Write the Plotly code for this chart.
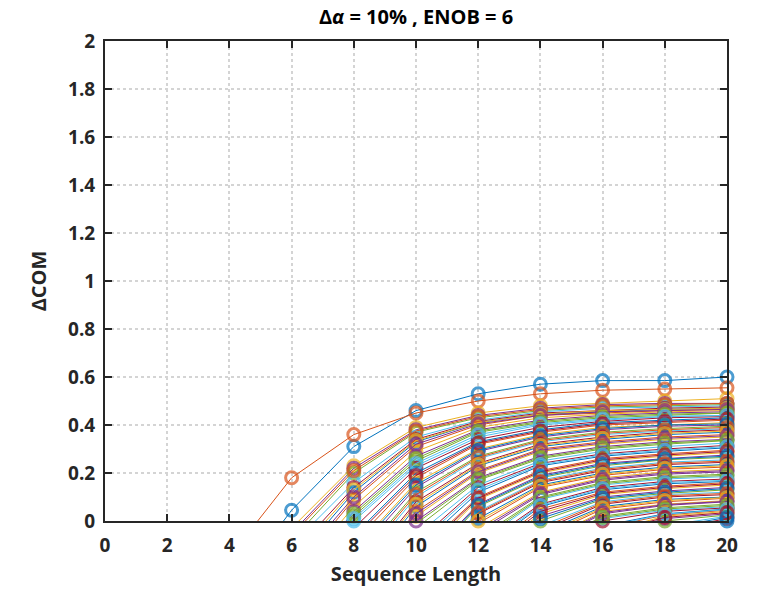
import plotly.graph_objects as go

seq_len = [4, 6, 8, 10, 12, 14, 16, 18, 20]

series = [
    [-0.30, 0.045, 0.31, 0.46, 0.53, 0.57, 0.585, 0.585, 0.60],
    [-0.15, 0.18, 0.36, 0.45, 0.50, 0.53, 0.545, 0.55, 0.555],
    [-0.35, -0.03, 0.23, 0.39, 0.45, 0.48, 0.49, 0.50, 0.51],
    [-0.38, -0.05, 0.22, 0.38, 0.44, 0.47, 0.485, 0.49, 0.49],
    [-0.42, -0.08, 0.20, 0.37, 0.43, 0.46, 0.475, 0.48, 0.485],
    [-0.45, -0.10, 0.16, 0.35, 0.42, 0.455, 0.47, 0.475, 0.48],
    [-0.48, -0.14, 0.14, 0.34, 0.415, 0.45, 0.46, 0.47, 0.475],
    [-0.52, -0.18, 0.12, 0.33, 0.41, 0.445, 0.455, 0.465, 0.47],
    [-0.60, -0.22, 0.09, 0.31, 0.40, 0.44, 0.45, 0.46, 0.465],
    [-0.62, -0.25, 0.06, 0.29, 0.39, 0.43, 0.445, 0.455, 0.46],
    [-0.65, -0.28, 0.04, 0.27, 0.38, 0.42, 0.44, 0.45, 0.455],
    [-0.68, -0.30, 0.02, 0.25, 0.37, 0.41, 0.43, 0.44, 0.45],
    [-0.70, -0.33, 0.00, 0.23, 0.35, 0.40, 0.42, 0.435, 0.44],
    [-0.75, -0.38, -0.03, 0.22, 0.34, 0.39, 0.415, 0.43, 0.435],
    [-0.78, -0.40, -0.06, 0.20, 0.33, 0.38, 0.41, 0.42, 0.43],
    [-0.80, -0.43, -0.09, 0.18, 0.32, 0.37, 0.40, 0.41, 0.42],
    [-0.85, -0.46, -0.12, 0.16, 0.30, 0.36, 0.39, 0.40, 0.41],
    [-0.88, -0.50, -0.15, 0.14, 0.29, 0.35, 0.38, 0.395, 0.40],
    [-0.95, -0.55, -0.18, 0.12, 0.27, 0.34, 0.37, 0.385, 0.395],
    [-1.00, -0.58, -0.21, 0.10, 0.26, 0.33, 0.36, 0.375, 0.385],
    [-1.00, -0.62, -0.24, 0.08, 0.24, 0.32, 0.35, 0.37, 0.38],
    [-1.00, -0.65, -0.27, 0.06, 0.23, 0.31, 0.34, 0.36, 0.37],
    [-1.00, -0.68, -0.30, 0.04, 0.21, 0.30, 0.33, 0.35, 0.36],
    [-1.00, -0.72, -0.33, 0.02, 0.20, 0.29, 0.32, 0.34, 0.35],
    [-1.00, -0.75, -0.36, 0.00, 0.18, 0.27, 0.31, 0.33, 0.34],
    [-1.00, -0.78, -0.39, -0.03, 0.17, 0.26, 0.30, 0.32, 0.335],
    [-1.00, -0.80, -0.42, -0.06, 0.15, 0.25, 0.29, 0.31, 0.325],
    [-1.00, -0.83, -0.45, -0.09, 0.14, 0.24, 0.28, 0.30, 0.315],
    [-1.00, -0.86, -0.48, -0.12, 0.12, 0.23, 0.27, 0.29, 0.305],
    [-1.00, -0.90, -0.50, -0.14, 0.10, 0.21, 0.26, 0.28, 0.295],
    [-1.00, -0.90, -0.52, -0.17, 0.09, 0.20, 0.25, 0.27, 0.285],
    [-1.00, -0.90, -0.55, -0.20, 0.07, 0.19, 0.24, 0.26, 0.275],
    [-1.00, -0.90, -0.58, -0.22, 0.06, 0.18, 0.23, 0.255, 0.265],
    [-1.00, -0.90, -0.60, -0.25, 0.04, 0.17, 0.22, 0.245, 0.255],
    [-1.00, -0.90, -0.62, -0.27, 0.03, 0.16, 0.21, 0.235, 0.245],
    [-1.00, -0.90, -0.65, -0.30, 0.01, 0.15, 0.20, 0.225, 0.235],
    [-1.00, -0.90, -0.68, -0.32, -0.01, 0.14, 0.19, 0.215, 0.225],
    [-1.00, -0.90, -0.70, -0.35, -0.03, 0.12, 0.18, 0.205, 0.215],
    [-1.00, -0.90, -0.72, -0.37, -0.05, 0.11, 0.17, 0.195, 0.205],
    [-1.00, -0.90, -0.75, -0.40, -0.07, 0.10, 0.16, 0.185, 0.195],
    [-1.00, -0.90, -0.78, -0.42, -0.09, 0.09, 0.15, 0.175, 0.185],
    [-1.00, -0.90, -0.80, -0.45, -0.11, 0.07, 0.14, 0.165, 0.175],
    [-1.00, -0.90, -0.80, -0.47, -0.13, 0.06, 0.13, 0.155, 0.165],
    [-1.00, -0.90, -0.80, -0.50, -0.15, 0.05, 0.12, 0.145, 0.16],
    [-1.00, -0.90, -0.80, -0.52, -0.17, 0.03, 0.11, 0.135, 0.15],
    [-1.00, -0.90, -0.80, -0.55, -0.19, 0.02, 0.10, 0.125, 0.14],
    [-1.00, -0.90, -0.80, -0.57, -0.21, 0.00, 0.09, 0.115, 0.13],
    [-1.00, -0.90, -0.80, -0.60, -0.23, -0.02, 0.08, 0.11, 0.12],
    [-1.00, -0.90, -0.80, -0.60, -0.25, -0.04, 0.07, 0.10, 0.11],
    [-1.00, -0.90, -0.80, -0.60, -0.27, -0.05, 0.06, 0.09, 0.10],
    [-1.00, -0.90, -0.80, -0.60, -0.30, -0.07, 0.05, 0.08, 0.095],
    [-1.00, -0.90, -0.80, -0.60, -0.32, -0.09, 0.04, 0.07, 0.085],
    [-1.00, -0.90, -0.80, -0.60, -0.34, -0.10, 0.03, 0.065, 0.08],
    [-1.00, -0.90, -0.80, -0.60, -0.36, -0.12, 0.02, 0.055, 0.07],
    [-1.00, -0.90, -0.80, -0.60, -0.38, -0.14, 0.01, 0.045, 0.06],
    [-1.00, -0.90, -0.80, -0.60, -0.40, -0.16, 0.00, 0.04, 0.055],
    [-1.00, -0.90, -0.80, -0.60, -0.42, -0.18, -0.02, 0.03, 0.05],
    [-1.00, -0.90, -0.80, -0.60, -0.44, -0.20, -0.03, 0.025, 0.045],
    [-1.00, -0.90, -0.80, -0.60, -0.46, -0.22, -0.05, 0.02, 0.04],
    [-1.00, -0.90, -0.80, -0.60, -0.48, -0.24, -0.06, 0.01, 0.03],
    [-1.00, -0.90, -0.80, -0.60, -0.50, -0.26, -0.08, 0.00, 0.025],
    [-1.00, -0.90, -0.80, -0.60, -0.50, -0.28, -0.10, -0.02, 0.02],
    [-1.00, -0.90, -0.80, -0.60, -0.50, -0.30, -0.12, -0.04, 0.01],
    [-1.00, -0.90, -0.80, -0.60, -0.50, -0.32, -0.14, -0.06, 0.00],
    [-0.40, -0.06, 0.21, 0.375, 0.435, 0.465, 0.48, 0.485, 0.49],
    [-0.50, -0.16, 0.13, 0.335, 0.41, 0.445, 0.46, 0.465, 0.47],
    [-0.58, -0.20, 0.10, 0.32, 0.405, 0.44, 0.455, 0.46, 0.465],
    [-0.66, -0.29, 0.03, 0.26, 0.375, 0.415, 0.435, 0.445, 0.45],
    [-0.72, -0.35, 0.01, 0.24, 0.36, 0.405, 0.425, 0.435, 0.44],
    [-0.79, -0.42, -0.07, 0.19, 0.325, 0.375, 0.405, 0.415, 0.425],
    [-0.86, -0.48, -0.13, 0.15, 0.295, 0.355, 0.385, 0.40, 0.405],
    [-0.97, -0.56, -0.19, 0.11, 0.265, 0.335, 0.365, 0.38, 0.39],
    [-1.00, -0.64, -0.25, 0.07, 0.235, 0.315, 0.345, 0.365, 0.375],
    [-1.00, -0.70, -0.31, 0.03, 0.205, 0.295, 0.325, 0.345, 0.355],
    [-1.00, -0.77, -0.37, -0.01, 0.175, 0.265, 0.305, 0.325, 0.337],
    [-1.00, -0.84, -0.46, -0.10, 0.13, 0.235, 0.275, 0.295, 0.31],
    [-1.00, -0.90, -0.51, -0.15, 0.095, 0.205, 0.255, 0.275, 0.29],
    [-1.00, -0.90, -0.56, -0.21, 0.065, 0.185, 0.235, 0.258, 0.27],
    [-1.00, -0.90, -0.61, -0.26, 0.035, 0.165, 0.215, 0.24, 0.25],
    [-1.00, -0.90, -0.66, -0.31, 0.00, 0.145, 0.195, 0.22, 0.23],
    [-1.00, -0.90, -0.71, -0.36, -0.04, 0.115, 0.175, 0.20, 0.21],
    [-1.00, -0.90, -0.76, -0.41, -0.08, 0.095, 0.155, 0.18, 0.19],
    [-1.00, -0.90, -0.80, -0.46, -0.12, 0.065, 0.135, 0.16, 0.17],
    [-1.00, -0.90, -0.80, -0.51, -0.16, 0.04, 0.115, 0.14, 0.155],
    [-1.00, -0.90, -0.80, -0.56, -0.20, 0.01, 0.095, 0.12, 0.135],
    [-1.00, -0.90, -0.80, -0.60, -0.24, -0.03, 0.075, 0.105, 0.115],
    [-1.00, -0.90, -0.80, -0.60, -0.28, -0.06, 0.055, 0.085, 0.098],
    [-1.00, -0.90, -0.80, -0.60, -0.33, -0.095, 0.035, 0.068, 0.082],
    [-1.00, -0.90, -0.80, -0.60, -0.37, -0.13, 0.015, 0.05, 0.065],
    [-1.00, -0.90, -0.80, -0.60, -0.43, -0.19, -0.025, 0.028, 0.048],
    [-1.00, -0.90, -0.80, -0.60, -0.47, -0.23, -0.055, 0.015, 0.035],
    [-1.00, -0.90, -0.80, -0.60, -0.50, -0.29, -0.11, -0.03, 0.015],
]

colors = ["#0072BD", "#D95319", "#EDB120", "#7E2F8E", "#77AC30", "#4DBEEE", "#A2142F"]

fig = go.Figure()
for i, ys in enumerate(series):
    c = colors[i % len(colors)]
    sizes = [12 if y >= 0 else 0 for y in ys]
    fig.add_trace(go.Scatter(
        x=seq_len, y=ys, mode="lines+markers",
        line=dict(color=c, width=1),
        marker=dict(symbol="circle-open", size=sizes, color=c, line=dict(width=3, color=c)),
        cliponaxis=False, showlegend=False, hoverinfo="skip",
    ))

axis_common = dict(
    showline=True, linecolor="#262626", linewidth=2, mirror="ticks",
    ticks="inside", ticklen=7, tickwidth=1.5, tickcolor="#262626",
    showgrid=True, gridcolor="#d4d4d4", griddash="dot", gridwidth=1.5,
    zeroline=False, automargin=False,
    tickfont=dict(family="Open Sans", size=19, color="#262626", weight="bold"),
)

fig.update_layout(
    width=762, height=591,
    margin=dict(l=105, r=35, t=41, b=70),
    paper_bgcolor="white", plot_bgcolor="white",
    title=dict(text="Δ<i>α</i> = 10% , ENOB = 6", x=0.5, xanchor="center", y=0.972, yanchor="middle",
               xref="paper",
               font=dict(family="Open Sans", size=20, color="#000000", weight="bold")),
    xaxis=dict(range=[0, 20], dtick=2, tick0=0, ticklabelstandoff=6,
               title=dict(text="Sequence Length", standoff=10,
                          font=dict(family="Open Sans", size=20, color="#262626", weight="bold")),
               **axis_common),
    yaxis=dict(range=[0, 2], dtick=0.2, tick0=0, ticklabelstandoff=4,
               title=dict(text="ΔCOM", standoff=16,
                          font=dict(family="Open Sans", size=20, color="#262626", weight="bold")),
               **axis_common),
)

fig.write_html("out.html")
